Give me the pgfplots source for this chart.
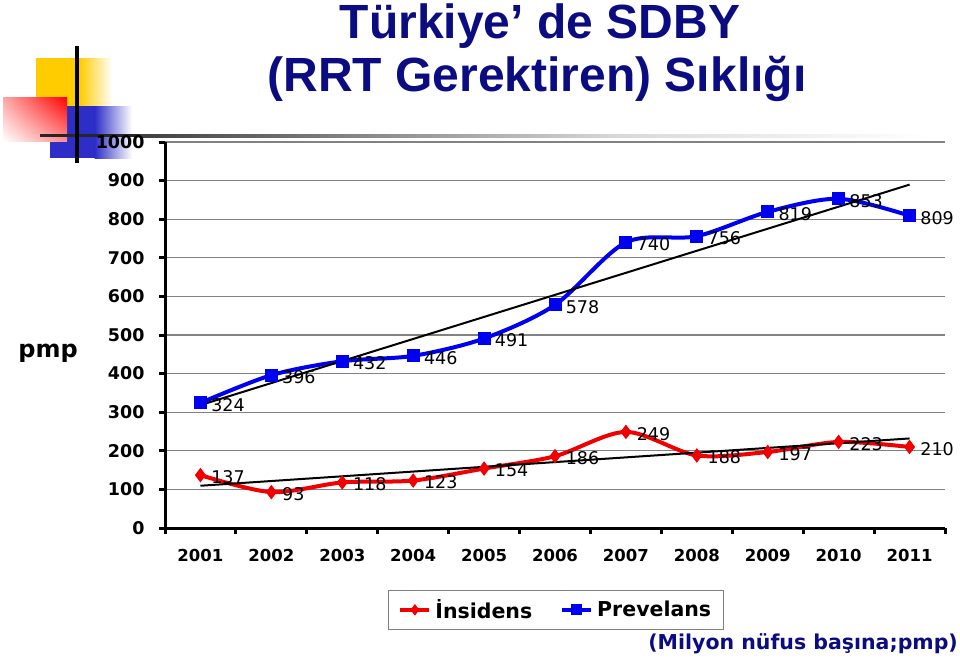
\documentclass[border=0pt]{standalone}
\usepackage{fontspec}
\setmainfont{DejaVu Sans}
\newfontfamily\arialfont{Liberation Sans}
\usepackage{pgfplots}
\usepackage{pgfplotstable}
\usetikzlibrary{shadings}
\pgfplotsset{compat=1.18}

\definecolor{titleblue}{RGB}{12,12,130}
\definecolor{decoblue}{RGB}{45,45,200}
\definecolor{decoyellow}{RGB}{255,204,0}
\definecolor{serblue}{RGB}{0,0,240}
\definecolor{serred}{RGB}{240,0,0}
\definecolor{gridgray}{RGB}{130,130,130}

% yil sirasi: 1=2001 ... 11=2011
\pgfplotstableread{
x  ins  prev
1  137  324
2  93   396
3  118  432
4  123  446
5  154  491
6  186  578
7  249  740
8  188  756
9  197  819
10 223  853
11 210  809
}\sdbydata

\begin{document}
\begin{tikzpicture}
\begin{scope}[x=1pt,y=-1pt]
  \path[use as bounding box] (0,0) rectangle (960,664);
  % kose suslemesi
  \fill[decoyellow] (36,58) rectangle (80,107);
  \shade[left color=decoyellow, right color=white] (79.5,58) rectangle (112,107);
  \fill[decoblue] (50,106) rectangle (95,158);
  \shade[left color=decoblue, right color=white] (94.5,106) rectangle (132,158);
  \shade[upper right=red, upper left=red!35, lower right=red!45, lower left=white] (3,97) rectangle (67,141);
  \fill[black!85] (40,134.3) rectangle (140.5,137.3);
  \shade[left color=black!75, right color=black!15] (140,134.3) rectangle (620.5,137.3);
  \shade[left color=black!15, right color=white] (620,134.3) rectangle (930,137.3);
  \draw[line width=3.5pt] (77,46) -- (77,163);

  % basliklar
  \node[anchor=base, text=titleblue, font=\arialfont\bfseries\fontsize{48}{50}\selectfont, inner sep=0pt] at (540,38) {Türkiye’ de SDBY};
  \node[anchor=base, text=titleblue, font=\arialfont\bfseries\fontsize{48}{50}\selectfont, inner sep=0pt] at (537,91) {(RRT Gerektiren) Sıklığı};
  \node[anchor=base, font=\bfseries\fontsize{24}{26}\selectfont, inner sep=0pt] at (48,357) {pmp};
  \node[anchor=base east, text=titleblue, font=\bfseries\fontsize{20.5}{22}\selectfont, inner sep=0pt] at (958,649) {(Milyon nüfus başına;pmp)};
\end{scope}

\begin{axis}[
    at={(165pt,-528pt)}, anchor=south west,
    scale only axis,
    width=780pt, height=386pt,
    xmin=0.5, xmax=11.5,
    ymin=0, ymax=1000,
    axis x line*=bottom, axis y line*=left,
    axis line style={-, line width=3pt, black},
    xtick={0.5,1.5,...,11.5},
    x tick label as interval,
    xticklabels={2001,2002,2003,2004,2005,2006,2007,2008,2009,2010,2011},
    ytick={0,100,...,1000},
    tick align=outside,
    major tick length=6pt,
    tick style={line width=3pt, black},
    ymajorgrids,
    major grid style={gridgray, line width=1.1pt},
    /pgf/number format/assume math mode=true,
    /pgf/number format/1000 sep={},
    yticklabel style={font=\bfseries\fontsize{17.5}{19}\selectfont, xshift=-11pt},
    xticklabel style={font=\bfseries\fontsize{16.5}{18}\selectfont, yshift=-12pt},
    clip=false,
    legend columns=2,
    legend style={at={(0.501,-0.212)}, anchor=center, draw=gray, line width=1pt,
        font=\bfseries\fontsize{20.5}{22}\selectfont, inner xsep=10pt, inner ysep=7pt,
        /tikz/every odd column/.append style={column sep=2pt},
        /tikz/every even column/.append style={column sep=26pt}},
    legend image code/.code={
        \draw[#1, line width=4pt, mark=none] (0pt,0pt) -- (29pt,0pt);
        \draw[#1, mark size=5pt] plot coordinates {(14.5pt,0pt)};
    },
    every node near coord/.append style={anchor=west, xshift=7pt, yshift=-2pt,
        font=\fontsize{17.5}{18}\selectfont, text=black},
  ]
  \addplot[serred, line width=4pt, smooth, tension=0.5, mark=diamond*, mark size=6.5pt,
           mark options={solid, line width=1pt}, nodes near coords] table[x=x, y=ins] {\sdbydata};
  \addlegendentry{İnsidens}
  \addplot[serblue, line width=4pt, smooth, tension=0.5, mark=square*, mark size=6pt,
           mark options={solid, line width=1pt}, nodes near coords] table[x=x, y=prev] {\sdbydata};
  \addlegendentry{Prevelans}
  % dogrusal egilim cizgileri
  \addplot[black, line width=2pt, forget plot] coordinates {(1,109.5) (11,232.0)};
  \addplot[black, line width=2pt, forget plot] coordinates {(1,318.4) (11,889.6)};
\end{axis}
\end{tikzpicture}
\end{document}
